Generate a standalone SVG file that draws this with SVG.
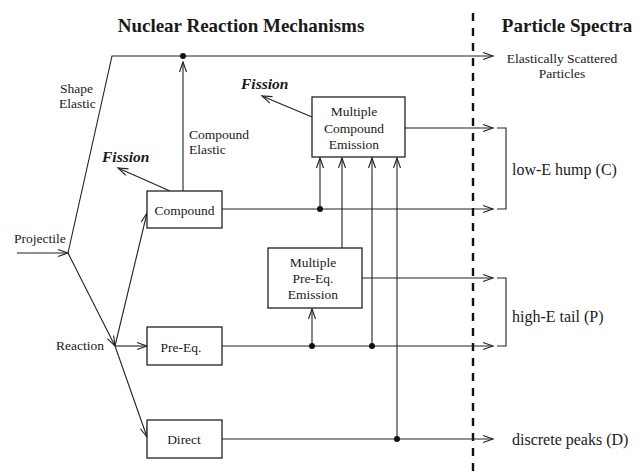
<svg xmlns="http://www.w3.org/2000/svg" width="644" height="474" viewBox="0 0 644 474">
<style>
.t{font-family:"Liberation Serif","Times New Roman",serif;fill:#1a1a1a;font-size:13.5px}
.h{font-family:"Liberation Serif","Times New Roman",serif;fill:#1a1a1a;font-size:19px;font-weight:bold}
.f{font-family:"Liberation Serif","Times New Roman",serif;fill:#1a1a1a;font-size:15.5px;font-weight:bold;font-style:italic}
.big{font-size:16px}
.box{fill:#fff;stroke:#222;stroke-width:1.3}
.c{fill:none;stroke:#222;stroke-width:1.1}
.a{marker-end:url(#ah)}
.dot{fill:#111}
</style>
<defs>
<marker id="ah" markerUnits="userSpaceOnUse" markerWidth="14" markerHeight="10" viewBox="-12 -5 14 10" refX="0" refY="0" orient="auto">
<path d="M-10,-3.5 L0,0 L-10,3.5" fill="none" stroke="#222" stroke-width="1.1"/>
</marker>
</defs>
<rect width="644" height="474" fill="#fff"/>
<text class="h" x="241" y="32" text-anchor="middle">Nuclear Reaction Mechanisms</text>
<text class="h" x="567" y="32" text-anchor="middle">Particle Spectra</text>
<path d="M473,13 V474" fill="none" stroke="#111" stroke-width="2.4" stroke-dasharray="8 7"/>
<g id="connectors">
<path class="c a" d="M17,253 L68,253"/>
<path class="c a" d="M68,253 L112,56 L493,56"/>
<path class="c a" d="M68,253 L115,346"/>
<path class="c a" d="M115,346 L147,213"/>
<path class="c a" d="M115,346 L147,346"/>
<path class="c a" d="M115,346 L147,437"/>
<path class="c a" d="M183,191 L183,62"/>
<path class="c a" d="M170,191 L118,168"/>
<path class="c a" d="M312,117 L262,96"/>
<path class="c a" d="M405,128 L493,128"/>
<path class="c a" d="M222,209 L493,209"/>
<path class="c a" d="M320,209 L320,158"/>
<path class="c a" d="M342,248 L342,158"/>
<path class="c a" d="M372,346 L372,158"/>
<path class="c a" d="M397,439 L397,158"/>
<path class="c a" d="M222,346 L493,346"/>
<path class="c a" d="M312,346 L312,309"/>
<path class="c a" d="M362,278 L493,278"/>
<path class="c a" d="M222,439 L493,439"/>
<path class="c" d="M497,128 H506 V209 H497"/>
<path class="c" d="M497,278 H506 V346 H497"/>
<circle class="dot" cx="183" cy="56" r="3"/>
<circle class="dot" cx="320" cy="209" r="3"/>
<circle class="dot" cx="312" cy="346" r="3"/>
<circle class="dot" cx="372" cy="346" r="3"/>
<circle class="dot" cx="397" cy="439" r="3"/>
</g>
<g id="compound">
<rect class="box" x="147" y="191" width="75" height="37"/>
<text class="t" x="184.5" y="215" text-anchor="middle">Compound</text>
</g>
<g id="preeq">
<rect class="box" x="147" y="327" width="75" height="38"/>
<text class="t" x="181" y="352" text-anchor="middle">Pre-Eq.</text>
</g>
<g id="direct">
<rect class="box" x="147" y="420" width="75" height="38"/>
<text class="t" x="184" y="444" text-anchor="middle">Direct</text>
</g>
<g id="mce">
<rect class="box" x="312" y="97" width="93" height="60"/>
<text class="t" x="354" y="116" text-anchor="middle">Multiple</text>
<text class="t" x="354" y="133" text-anchor="middle">Compound</text>
<text class="t" x="354" y="149" text-anchor="middle">Emission</text>
</g>
<g id="mpe">
<rect class="box" x="268" y="248" width="94" height="60"/>
<text class="t" x="313" y="267" text-anchor="middle">Multiple</text>
<text class="t" x="313" y="283" text-anchor="middle">Pre-Eq.</text>
<text class="t" x="313" y="299" text-anchor="middle">Emission</text>
</g>
<g id="labels">
<text class="t" x="14" y="243">Projectile</text>
<text class="t" x="56" y="350">Reaction</text>
<text class="t" x="60" y="93">Shape</text>
<text class="t" x="59" y="108">Elastic</text>
<text class="t" x="189" y="139">Compound</text>
<text class="t" x="189" y="154">Elastic</text>
<text class="f" x="102" y="162">Fission</text>
<text class="f" x="241" y="89">Fission</text>
<text class="t" x="562" y="63" text-anchor="middle">Elastically Scattered</text>
<text class="t" x="562" y="78" text-anchor="middle">Particles</text>
<text class="t big" x="512" y="175">low-E hump (C)</text>
<text class="t big" x="512" y="322">high-E tail (P)</text>
<text class="t big" x="512" y="445">discrete peaks (D)</text>
</g>
</svg>
